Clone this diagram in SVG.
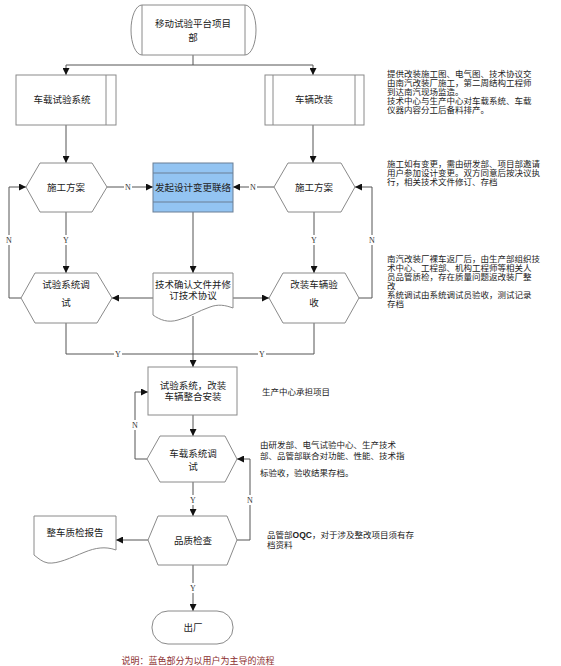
<svg xmlns="http://www.w3.org/2000/svg" width="561" height="666" viewBox="0 0 561 666">
<defs>
<marker id="ah" viewBox="0 0 10 10" refX="10" refY="5" markerWidth="7" markerHeight="7" markerUnits="userSpaceOnUse" orient="auto">
<path d="M0,0 L10,5 L0,10 Z" fill="#111"/>
</marker>
<style>
text{font-family:"Liberation Serif","Noto Sans CJK SC",serif;fill:#222}
.n{font-size:9.5px;text-anchor:middle}
.note{font-size:8.5px}
.lbl{font-size:8px;text-anchor:middle;fill:#333}
.shape{fill:#fff;stroke:#8a8a8a;stroke-width:1}
.blue{fill:#93c4f2;stroke:#6a7f95;stroke-width:1}
.c{fill:none;stroke:#555;stroke-width:1}
.a{marker-end:url(#ah)}
.lb{fill:#fff}
</style>
</defs>
<rect width="561" height="666" fill="#fff"/>

<g id="connectors">
<path class="c" d="M193,55 V65 M66,65 H313"/>
<path class="c a" d="M66,65 V75"/>
<path class="c a" d="M313,65 V75"/>
<path class="c a" d="M66,125 V163"/>
<path class="c a" d="M313,125 V163"/>
<path class="c a" d="M107,187 H153"/>
<path class="c a" d="M274,187 H233"/>
<path class="c a" d="M66,212 V273"/>
<path class="c a" d="M314,212 V273"/>
<path class="c a" d="M193,212 V273"/>
<path class="c a" d="M153,298 H112"/>
<path class="c a" d="M233,298 H269"/>
<path class="c a" d="M21,298 H9 V187 H26"/>
<path class="c a" d="M359,298 H372 V187 H355"/>
<path class="c" d="M66,323 V354 H193"/>
<path class="c" d="M314,323 V354 H193"/>
<path class="c a" d="M193,316 V367"/>
<path class="c a" d="M193,415 V436"/>
<path class="c a" d="M147,459 H135 V392 H148"/>
<path class="c a" d="M193,482 V516"/>
<path class="c a" d="M237,540 H250 V459 H237"/>
<path class="c a" d="M148,540 H116"/>
<path class="c a" d="M193,565 V611"/>
<g>
<rect class="lb" x="124" y="182" width="8" height="10"/><text class="lbl" x="128" y="190">N</text>
<rect class="lb" x="249" y="182" width="8" height="10"/><text class="lbl" x="253" y="190">N</text>
<rect class="lb" x="62" y="235" width="8" height="10"/><text class="lbl" x="66" y="243">Y</text>
<rect class="lb" x="310" y="235" width="8" height="10"/><text class="lbl" x="314" y="243">Y</text>
<rect class="lb" x="5" y="235" width="8" height="10"/><text class="lbl" x="9" y="243">N</text>
<rect class="lb" x="368" y="235" width="8" height="10"/><text class="lbl" x="372" y="243">N</text>
<rect class="lb" x="114" y="349" width="8" height="10"/><text class="lbl" x="118" y="357">Y</text>
<rect class="lb" x="258" y="349" width="8" height="10"/><text class="lbl" x="262" y="357">Y</text>
<rect class="lb" x="131" y="420" width="8" height="10"/><text class="lbl" x="135" y="428">N</text>
<rect class="lb" x="189" y="495" width="8" height="10"/><text class="lbl" x="193" y="503">Y</text>
<rect class="lb" x="246" y="495" width="8" height="10"/><text class="lbl" x="250" y="503">N</text>
<rect class="lb" x="189" y="583" width="8" height="10"/><text class="lbl" x="193" y="591">Y</text>
</g>
</g>

<g id="start">
<path class="shape" d="M142,5 H245 A11,25 0 0 1 245,55 H142 A11,25 0 0 1 142,5 Z"/>
<path class="shape" d="M142,5 V55 M245,5 V55"/>
<text class="n" x="193" y="27" font-size="11">移动试验平台项目</text>
<text class="n" x="193" y="41" font-size="11">部</text>
</g>

<g id="n-vehicle-system">
<rect class="shape" x="16" y="75" width="100" height="50"/>
<path class="shape" d="M106,75 V125"/>
<text class="n" x="62" y="103">车载试验系统</text>
</g>

<g id="n-vehicle-mod">
<rect class="shape" x="265" y="75" width="99" height="50"/>
<path class="shape" d="M273,75 V125 M355,75 V125"/>
<text class="n" x="314" y="103">车辆改装</text>
</g>

<g id="n-plan-left">
<polygon class="shape" points="26,187 40,163 92,163 107,187 92,212 40,212"/>
<text class="n" x="66" y="191">施工方案</text>
</g>

<g id="n-change">
<rect class="blue" x="153" y="163" width="80" height="49"/>
<path class="blue" d="M153,173 H233 M153,202 H233"/>
<text class="n" x="193" y="191">发起设计变更联络</text>
</g>

<g id="n-plan-right">
<polygon class="shape" points="274,187 288,163 341,163 355,187 341,212 288,212"/>
<text class="n" x="314" y="191">施工方案</text>
</g>

<g id="n-sys-debug">
<polygon class="shape" points="21,298 35,273 97,273 112,298 97,323 35,323"/>
<text class="n" x="66" y="288">试验系统调</text>
<text class="n" x="66" y="306">试</text>
</g>

<g id="n-tech-doc">
<path class="shape" d="M153,273 H233 V308 C225,305 218,304 210,307 C198,311 190,317 178,320 C168,323 160,320 153,315 Z"/>
<text class="n" x="193" y="288">技术确认文件并修</text>
<text class="n" x="193" y="299">订技术协议</text>
</g>

<g id="n-vehicle-accept">
<polygon class="shape" points="269,298 283,273 345,273 359,298 345,323 283,323"/>
<text class="n" x="314" y="288">改装车辆验</text>
<text class="n" x="314" y="306">收</text>
</g>

<g id="n-integrate">
<rect class="shape" x="148" y="367" width="89" height="48"/>
<text class="n" x="193" y="389">试验系统，改装</text>
<text class="n" x="193" y="400">车辆整合安装</text>
</g>

<g id="n-onboard-debug">
<polygon class="shape" points="147,459 160,436 225,436 237,459 225,482 160,482"/>
<text class="n" x="193" y="457">车载系统调</text>
<text class="n" x="193" y="470">试</text>
</g>

<g id="n-quality">
<polygon class="shape" points="148,540 158,516 227,516 237,540 227,565 158,565"/>
<text class="n" x="193" y="544">品质检查</text>
</g>

<g id="n-report">
<path class="shape" d="M34,516 H116 V550 C105,546 95,548 85,552 C70,558 58,564 48,563 C42,562 38,558 34,555 Z"/>
<text class="n" x="75" y="536">整车质检报告</text>
</g>

<g id="end">
<rect class="shape" x="152" y="611" width="81" height="33" rx="16" ry="16"/>
<text class="n" x="193" y="631" font-size="10.5">出厂</text>
</g>

<g id="notes">
<text class="note" x="387" y="77">提供改装施工图、电气图、技术协议交</text>
<text class="note" x="387" y="86">由南汽改装厂施工，第二周结构工程师</text>
<text class="note" x="387" y="95">到达南汽现场监造。</text>
<text class="note" x="387" y="104">技术中心与生产中心对车载系统、车载</text>
<text class="note" x="387" y="113">仪器内容分工后备料排产。</text>

<text class="note" x="387" y="167">施工如有变更，需由研发部、项目部邀请</text>
<text class="note" x="387" y="176">用户参加设计变更。双方同意后按决议执</text>
<text class="note" x="387" y="185">行，相关技术文件修订、存档</text>

<text class="note" x="387" y="262">南汽改装厂裸车返厂后，由生产部组织技</text>
<text class="note" x="387" y="271">术中心、工程部、机构工程师等相关人</text>
<text class="note" x="387" y="280">员品管质检，存在质量问题返改装厂整</text>
<text class="note" x="387" y="289">改</text>
<text class="note" x="387" y="298">系统调试由系统调试员验收，测试记录</text>
<text class="note" x="387" y="307">存档</text>

<text class="note" x="262" y="395">生产中心承担项目</text>

<text class="note" x="260" y="448">由研发部、电气试验中心、生产技术</text>
<text class="note" x="260" y="459">部、品管部联合对功能、性能、技术指</text>
<text class="note" x="260" y="476">标验收，验收结果存档。</text>

<text class="note" x="267" y="538">品管部<tspan font-family="Liberation Sans, sans-serif" font-weight="bold">OQC</tspan>，对于涉及整改项目须有存</text>
<text class="note" x="267" y="548">档资料</text>

<text class="note" x="198" y="664" text-anchor="middle" style="fill:#8b2e2e;font-size:9px">说明：蓝色部分为以用户为主导的流程</text>
</g>
</svg>
